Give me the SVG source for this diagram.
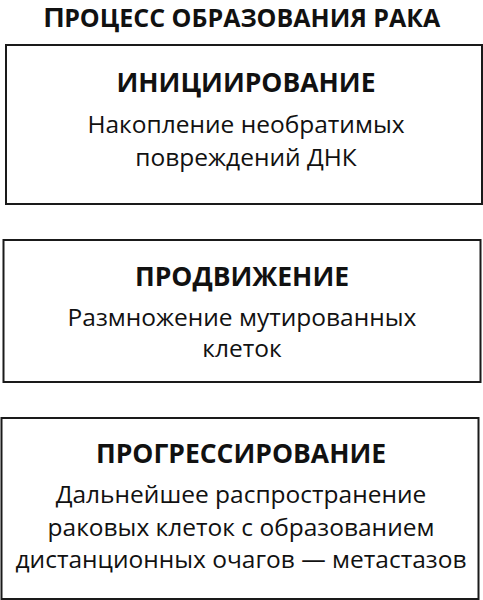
<svg xmlns="http://www.w3.org/2000/svg" width="483" height="600" viewBox="0 0 483 600">
<style>
.box{fill:#fff;stroke:#1a1a1a;stroke-width:2}
text{font-family:"Open Sans","Noto Sans",sans-serif;fill:#111;text-anchor:middle}
.title{font-weight:bold;font-size:25px}
.cap{font-family:"Liberation Sans",Arial,sans-serif;font-size:28.5px}
.head{font-weight:bold;font-size:26.5px}
.body{font-size:24.5px}
</style>
<rect width="483" height="600" fill="#fff"/>
<g id="title"><text class="title" x="242" y="26.5"><tspan class="cap">П</tspan>РОЦЕСС ОБРАЗОВАНИЯ РАКА</text></g>
<g id="connectors"></g>
<g id="node-initiation">
<rect class="box" x="6" y="45" width="476" height="159"/>
<text class="head" x="246" y="92">ИНИЦИИРОВАНИЕ</text>
<text class="body" x="246" y="133">Накопление необратимых</text>
<text class="body" x="246" y="165.5">повреждений ДНК</text>
</g>
<g id="node-promotion">
<rect class="box" x="3.5" y="240" width="477" height="142"/>
<text class="head" x="242" y="286">ПРОДВИЖЕНИЕ</text>
<text class="body" x="242" y="326">Размножение мутированных</text>
<text class="body" x="242" y="357">клеток</text>
</g>
<g id="node-progression">
<rect class="box" x="1.5" y="418" width="477" height="181"/>
<text class="head" x="241" y="463">ПРОГРЕССИРОВАНИЕ</text>
<text class="body" x="241" y="503">Дальнейшее распространение</text>
<text class="body" x="241" y="535.5">раковых клеток с образованием</text>
<text class="body" x="241" y="568">дистанционных очагов — метастазов</text>
</g>
</svg>
